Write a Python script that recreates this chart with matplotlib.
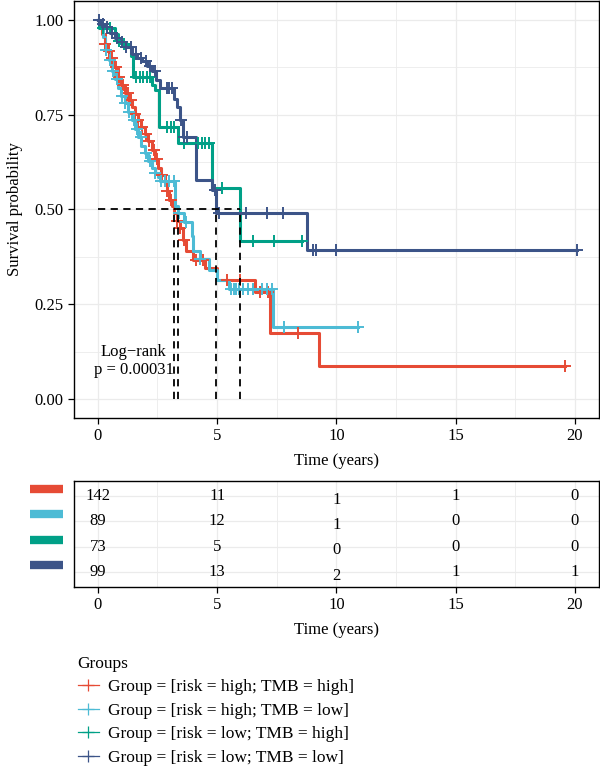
import numpy as np
import matplotlib
matplotlib.use("Agg")
import matplotlib.pyplot as plt
from matplotlib.lines import Line2D

plt.rcParams['font.family'] = ['Liberation Serif', 'DejaVu Serif']

COLORS = ['#E64B35', '#4DBBD5', '#00A087', '#3C5488']
LABELS = ['Group = [risk = high; TMB = high]',
          'Group = [risk = high; TMB = low]',
          'Group = [risk = low; TMB = high]',
          'Group = [risk = low; TMB = low]']

# step curves: change times and survival after each change
red_t = [0, 0.08, 0.18, 0.3, 0.4, 0.5, 0.65, 0.84, 0.98, 1.13, 1.28, 1.43, 1.55, 1.68, 1.82, 1.97,
         2.1, 2.26, 2.4, 2.52, 2.65, 2.8, 2.9, 3.0, 3.1, 3.19, 3.3, 3.44, 3.57, 3.7, 4.0, 4.5,
         5.0, 6.6, 7.2, 9.27]
red_s = [1.0, 0.985, 0.962, 0.937, 0.918, 0.90, 0.875, 0.848, 0.828, 0.806, 0.788, 0.77, 0.752,
         0.735, 0.718, 0.70, 0.68, 0.656, 0.632, 0.61, 0.59, 0.57, 0.548, 0.525, 0.51, 0.49, 0.47,
         0.45, 0.42, 0.39, 0.367, 0.346, 0.315, 0.283, 0.173, 0.087]
red_end = 19.6
red_cens = [0.3, 0.45, 0.6, 0.75, 0.9, 1.05, 1.25, 1.4, 1.55, 1.7, 1.85, 2.0, 2.15, 2.35, 2.5,
            2.7, 2.9, 3.05, 3.3, 3.45, 3.6, 4.1, 4.4, 5.4, 5.95, 6.8, 7.15, 8.4, 19.6]

cyan_t = [0, 0.1, 0.2, 0.3, 0.45, 0.59, 0.72, 0.84, 0.98, 1.13, 1.28, 1.43, 1.55, 1.68, 1.82,
          1.97, 2.1, 2.26, 2.4, 2.52, 2.6, 3.23, 3.35, 3.6, 3.95, 4.0, 4.3, 4.65, 5.0, 5.5, 7.35]
cyan_s = [1.0, 0.98, 0.955, 0.92, 0.895, 0.866, 0.843, 0.82, 0.80, 0.78, 0.758, 0.735, 0.712,
          0.69, 0.668, 0.648, 0.628, 0.61, 0.597, 0.585, 0.575, 0.51, 0.49, 0.467, 0.43, 0.39,
          0.37, 0.34, 0.315, 0.289, 0.19]
cyan_end = 10.9
cyan_cens = [0.35, 0.5, 0.65, 0.8, 1.0, 1.15, 1.3, 1.5, 1.65, 1.8, 2.0, 2.2, 2.4, 2.65, 2.8, 3.0,
             3.2, 3.4, 3.7, 4.3, 5.6, 5.7, 5.8, 5.9, 6.1, 6.3, 6.5, 6.9, 7.1, 7.3, 7.8, 10.9]

green_t = [0, 0.05, 0.7, 0.84, 1.05, 1.26, 1.38, 1.47, 2.26, 2.4, 2.58, 3.35, 4.77, 5.95]
green_s = [1.0, 0.978, 0.962, 0.945, 0.935, 0.927, 0.905, 0.848, 0.827, 0.814, 0.717, 0.674,
           0.556, 0.417]
green_end = 8.55
green_cens = [0.2, 0.5, 0.9, 1.1, 1.6, 1.75, 1.9, 2.05, 2.2, 2.9, 3.05, 3.2, 3.6, 4.2, 4.35,
              4.5, 4.65, 5.2, 6.5, 7.4, 8.55]

blue_t = [0, 0.1, 0.3, 0.5, 0.7, 0.9, 1.13, 1.43, 1.65, 1.84, 2.05, 2.26, 2.45, 2.6, 3.2, 3.3,
          3.44, 3.57, 4.1, 4.8, 4.97, 8.76]
blue_s = [1.0, 0.99, 0.98, 0.965, 0.953, 0.94, 0.927, 0.91, 0.90, 0.892, 0.878, 0.866, 0.84,
          0.82, 0.79, 0.77, 0.735, 0.69, 0.577, 0.55, 0.49, 0.394]
blue_end = 20.1
blue_cens = [0.05, 0.2, 0.4, 0.6, 0.8, 1.0, 1.2, 1.4, 1.6, 1.8, 2.0, 2.2, 2.4, 2.9, 3.0, 3.1,
             3.5, 3.6, 3.75, 4.9, 5.1, 6.2, 7.1, 7.76, 9.0, 9.15, 10.0, 20.1]

# number at risk table
risk_times = [0, 5, 10, 15, 20]
risk_red = [142, 11, 1, 1, 0]
risk_cyan = [89, 12, 1, 0, 0]
risk_green = [73, 5, 0, 0, 0]
risk_blue = [99, 13, 2, 1, 1]

PVAL_TEXT = 'Log\u2212rank\np = 0.00031'

groups = [
    (red_t, red_s, red_end, red_cens, risk_red),
    (cyan_t, cyan_s, cyan_end, cyan_cens, risk_cyan),
    (green_t, green_s, green_end, green_cens, risk_green),
    (blue_t, blue_s, blue_end, blue_cens, risk_blue),
]

GRID = '#EBEBEB'
FS = 12

fig = plt.figure(figsize=(6, 7.68), dpi=100)
ax = fig.add_axes([0.1233, 0.4557, 0.8747, 0.5433])
tab = fig.add_axes([0.1233, 0.2357, 0.8747, 0.138])


def style_axes(a):
    for sp in a.spines.values():
        sp.set_color('black')
        sp.set_linewidth(1.0)
    a.set_axisbelow(True)
    a.grid(which='major', color=GRID, lw=0.9)
    a.grid(which='minor', color=GRID, lw=0.6)
    a.tick_params(which='minor', length=0)
    a.tick_params(which='major', length=4, width=0.9, labelsize=FS, colors='black')


# survival curves
medians = []
for (t, s, end, cens, _), col in zip(groups, COLORS):
    tt = np.append(t, end)
    ss = np.append(s, s[-1])
    ax.step(tt, ss, where='post', color=col, lw=2.2, zorder=3)
    idx = np.searchsorted(t, cens, side='right') - 1
    ax.plot(cens, np.asarray(s)[idx], ls='none', marker='+', ms=8.5, mew=1.4, color=col, zorder=4)
    below = np.where(np.asarray(s) <= 0.5)[0]
    medians.append(t[below[0]])

ax.plot([0, max(medians)], [0.5, 0.5], color='black', ls=(0, (4, 3)), lw=1.3, zorder=5)
for m in medians:
    ax.plot([m, m], [0, 0.5], color='black', ls=(0, (4, 3)), lw=1.3, zorder=5)

ax.text(1.5, 0.1, PVAL_TEXT, ha='center', va='center', fontsize=FS, linespacing=1.2)

ax.set_xlim(-1, 21)
ax.set_ylim(-0.05, 1.05)
ax.set_xticks([0, 5, 10, 15, 20])
ax.set_xticks([2.5, 7.5, 12.5, 17.5], minor=True)
ax.set_yticks([0, 0.25, 0.5, 0.75, 1.0])
ax.set_yticklabels(['0.00', '0.25', '0.50', '0.75', '1.00'])
ax.set_yticks([0.125, 0.375, 0.625, 0.875], minor=True)
style_axes(ax)
ax.set_xlabel('Time (years)', fontsize=FS, labelpad=6)
ax.set_ylabel('Survival probability', fontsize=FS, labelpad=8)

# risk table
rows = [4, 3, 2, 1]
for (_, _, _, _, risk), row, col in zip(groups, rows, COLORS):
    for x, n in zip(risk_times, risk):
        dy = -0.15 if x == 10 else 0.0
        tab.text(x, row + dy, str(n), ha='center', va='center', fontsize=FS)
    tab.plot([-0.084, -0.021], [row + 0.28, row + 0.28], color=col, lw=6,
             solid_capstyle='butt', transform=tab.get_yaxis_transform(), clip_on=False)

tab.set_xlim(-1, 21)
tab.set_ylim(0.4, 4.6)
tab.set_xticks([0, 5, 10, 15, 20])
tab.set_xticks([2.5, 7.5, 12.5, 17.5], minor=True)
tab.set_yticks(rows)
tab.set_yticklabels([])
style_axes(tab)
tab.tick_params(axis='y', which='major', length=0)
tab.set_xlabel('Time (years)', fontsize=FS, labelpad=6)

# legend
handles = [Line2D([], [], color=c, lw=0.9, marker='+', ms=9, mew=0.9) for c in COLORS]
leg = fig.legend(handles, LABELS, title='Groups', loc='upper left',
                 bbox_to_anchor=(0.118, 0.155), frameon=False, fontsize=12.5,
                 title_fontsize=12.5, handlelength=1.2, handletextpad=0.55,
                 labelspacing=0.42, borderaxespad=0)
leg._legend_box.align = 'left'

fig.savefig('out.png', dpi=100)
